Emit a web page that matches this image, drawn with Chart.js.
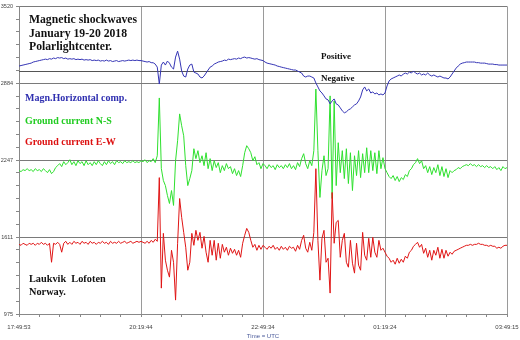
<!DOCTYPE html>
<html>
<head>
<meta charset="utf-8">
<script src="https://cdn.jsdelivr.net/npm/chart.js@4.4.1/dist/chart.umd.min.js"></script>
<style>
html, body { margin: 0; padding: 0; background: #fff; }
#wrap { position: relative; width: 520px; height: 340px; }
</style>
</head>
<body>
<div id="wrap"><canvas id="chart"></canvas></div>
<script>
// logger output, one sample every ~2.5 min from 17:49:53 to 03:49:15 (241 samples)
const xTickLabels = ['17:49:53', '20:19:44', '22:49:34', '01:19:24', '03:49:15'];
const yTickLabels = ['975', '1611', '2247', '2884', '3520'];
const yMin = 975;
const yMax = 3520;
const magnZeroLevel = 2985;

const magnHorizontal = [
  3026,3030,3034,3038,3042,3046,3050,3059,3063,3067,
  3071,3075,3079,3083,3079,3087,3083,3092,3087,3096,
  3092,3096,3087,3092,3083,3087,3083,3087,3079,3083,
  3079,3083,3075,3079,3075,3079,3071,3075,3071,3075,
  3067,3071,3067,3075,3067,3071,3063,3067,3071,3063,
  3067,3071,3067,3071,3075,3071,3075,3071,3075,3071,
  3071,
  3067,3063,3059,3063,3054,3053,3042,3017,2877,3034,
  3059,3034,3067,3050,3017,3001,3100,3149,3083,2985,
  2943,2935,3001,3034,3042,2976,2968,2960,2935,2927,
  2943,2968,2993,3017,3026,3042,3050,3059,3063,3067,
  3075,3071,3083,3079,3083,3087,3083,3092,3087,3096,
  3100,3092,3096,3092,3087,3083,3087,3079,3075,3071,
  3059,3050,3046,3042,3038,3034,3026,3022,3017,3013,
  3009,3005,3001,2997,2993,2993,2985,2976,2968,2943,
  2935,2943,2943,2935,2927,2886,2853,2820,2803,2779,
  2754,2746,2713,2737,2754,2713,2704,2680,2655,2639,
  2647,2663,2672,2688,2704,2713,2737,2770,2828,2853,
  2820,2836,2803,2812,2795,2803,2787,2795,2787,2803,
  2861,2902,2919,2927,2935,2943,2952,2943,2960,2968,
  2960,2976,2968,2985,2968,2960,2968,2952,2960,2952,
  2968,2952,2943,2952,2943,2935,2943,2935,2927,2927,
  2919,2935,2960,2985,3009,3026,3042,3050,3054,3059,
  3059,3059,3059,3059,3054,3054,3050,3050,3050,3046,
  3042,3042,3042,3038,3038,3034,3034,3034,3034,3034
];

const groundNS = [
  2161,2153,2169,2161,2177,2161,2169,2153,2177,2161,
  2169,2153,2177,2161,2144,2169,2136,2153,2186,2202,
  2219,2194,2235,2210,2227,2251,2210,2235,2202,2243,
  2219,2235,2202,2243,2210,2227,2202,2235,2210,2243,
  2219,2202,2235,2210,2243,2219,2235,2210,2243,2227,
  2235,2219,2243,2227,2235,2227,2243,2227,2235,2227,
  2243,
  2235,2251,2227,2243,2235,2260,2227,2284,2762,2177,
  2079,2037,1955,1889,1996,1873,2243,2408,2630,2532,
  2449,2202,2037,2095,2161,2342,2260,2326,2227,2284,
  2202,2309,2177,2260,2161,2243,2186,2227,2144,2202,
  2161,2219,2177,2194,2136,2177,2120,2161,2112,2202,
  2309,2367,2342,2309,2243,2276,2210,2227,2177,2219,
  2202,2177,2210,2186,2202,2169,2210,2186,2202,2177,
  2210,2186,2219,2177,2202,2169,2227,2194,2260,2301,
  2219,2177,2243,2202,2326,2836,2326,1939,2161,2284,
  2120,2177,2779,1930,2737,2037,2392,2144,2326,2095,
  2342,2054,2309,1996,2284,2120,2326,2103,2301,2144,
  2350,2144,2326,2161,2309,2136,2326,2177,2268,2177,
  2144,2112,2095,2120,2079,2112,2070,2103,2087,2128,
  2112,2161,2177,2210,2227,2260,2219,2243,2177,2202,
  2144,2194,2128,2186,2144,2210,2120,2194,2112,2177,
  2103,2161,2144,2161,2169,2186,2177,2194,2202,2210,
  2202,2219,2202,2210,2194,2210,2194,2202,2186,2202,
  2186,2194,2177,2194,2169,2186,2161,2194,2177,2186
];

const groundEW = [
  1551,1543,1560,1551,1543,1560,1551,1560,1543,1560,
  1551,1568,1551,1560,1543,1560,1403,1560,1551,1568,
  1551,1486,1560,1576,1551,1568,1551,1576,1560,1568,
  1551,1576,1560,1568,1551,1576,1560,1568,1551,1568,
  1560,1576,1560,1568,1551,1576,1560,1568,1560,1576,
  1560,1568,1576,1560,1568,1576,1560,1568,1576,1568,
  1576,
  1568,1560,1576,1560,1584,1568,1593,1576,2103,1189,
  1642,1420,1337,1280,1502,1403,1090,1560,1930,1774,
  1650,1527,1337,1403,1642,1543,1667,1584,1650,1519,
  1617,1486,1403,1584,1461,1584,1420,1560,1436,1551,
  1486,1527,1461,1519,1477,1510,1461,1502,1444,1560,
  1626,1683,1650,1584,1527,1551,1502,1543,1510,1543,
  1527,1510,1535,1519,1543,1510,1527,1502,1535,1510,
  1527,1502,1535,1519,1527,1494,1543,1510,1584,1626,
  1519,1486,1568,1502,1650,2177,1584,1255,1601,1667,
  1403,1436,1148,1980,1560,1733,1749,1444,1584,1642,
  1403,1362,1584,1395,1313,1560,1379,1337,1650,1461,
  1420,1601,1444,1609,1486,1444,1584,1502,1519,1486,
  1453,1436,1403,1420,1387,1436,1395,1428,1403,1453,
  1436,1486,1502,1535,1551,1568,1527,1551,1477,1519,
  1444,1502,1420,1502,1461,1527,1436,1510,1436,1502,
  1453,1486,1469,1494,1502,1510,1519,1527,1535,1543,
  1543,1551,1543,1551,1551,1560,1551,1551,1543,1543,
  1535,1543,1535,1535,1519,1527,1519,1535,1543,1543
];

const toPoints = arr => arr.map((v, i) => ({ x: i, y: v }));
const lastIndex = magnHorizontal.length - 1;

const serif = '"Liberation Serif", "Times New Roman", serif';
const sans = '"Liberation Sans", Arial, sans-serif';

// zero line of the magnetometer trace + the caption texts
const overlayText = {
    id: 'overlayText',
    beforeDatasetsDraw(chart) {
        const { ctx, chartArea, scales } = chart;
        const y = Math.round(scales.y.getPixelForValue(magnZeroLevel)) + 0.5;
        ctx.save();
        ctx.strokeStyle = '#555';
        ctx.lineWidth = 1;
        ctx.beginPath();
        ctx.moveTo(chartArea.left, y);
        ctx.lineTo(chartArea.right, y);
        ctx.stroke();
        ctx.restore();
    },
    afterDatasetsDraw(chart) {
        const { ctx, chartArea, scales } = chart;
        const l = chartArea.left, t = chartArea.top;
        const zy = scales.y.getPixelForValue(magnZeroLevel);
        ctx.save();
        ctx.textBaseline = 'middle';
        ctx.textAlign = 'left';

        ctx.fillStyle = '#111';
        ctx.font = 'bold 11.7px ' + serif;
        ctx.fillText('Magnetic shockwaves', l + 10, t + 14);
        ctx.fillText('January 19-20 2018', l + 10, t + 28);
        ctx.fillText('Polarlightcenter.', l + 10, t + 41);

        ctx.font = 'bold 9px ' + serif;
        ctx.fillText('Positive', l + 302, zy - 14);
        ctx.fillText('Negative', l + 302, zy + 8);

        ctx.font = 'bold 10px ' + serif;
        ctx.fillStyle = '#2f2fb0';
        ctx.fillText('Magn.Horizontal comp.', l + 6, t + 92);
        ctx.fillStyle = '#22cc22';
        ctx.fillText('Ground current N-S', l + 6, t + 115);
        ctx.fillStyle = '#dd1111';
        ctx.fillText('Ground current E-W', l + 6, t + 136);

        ctx.fillStyle = '#111';
        ctx.font = 'bold 10.3px ' + serif;
        ctx.fillText('Laukvik  Lofoten', l + 10, t + 273);
        ctx.fillText('Norway.', l + 10, t + 286);
        ctx.restore();
    }
};

new Chart(document.getElementById('chart'), {
    type: 'line',
    data: {
        datasets: [
            { label: 'Magn.Horizontal comp.', data: toPoints(magnHorizontal), borderColor: '#3535b5', borderWidth: 1 },
            { label: 'Ground current E-W', data: toPoints(groundEW), borderColor: '#e01515', borderWidth: 1 },
            { label: 'Ground current N-S', data: toPoints(groundNS), borderColor: '#2fe02f', borderWidth: 1 }
        ]
    },
    options: {
        responsive: true,
        maintainAspectRatio: false,
        animation: false,
        elements: { point: { radius: 0 }, line: { tension: 0 } },
        layout: { padding: { top: 5, right: 13, left: 0, bottom: 0 } },
        plugins: { legend: { display: false }, tooltip: { enabled: false } },
        scales: {
            x: {
                type: 'linear',
                min: 0,
                max: lastIndex,
                afterBuildTicks: scale => {
                    const ticks = [];
                    for (let v = 0; v <= lastIndex; v += 10) ticks.push({ value: v });
                    scale.ticks = ticks;
                },
                afterFit: scale => {
                    scale.height = 26;
                    // last label may hang over the right edge
                    scale.paddingLeft = 0;
                    scale.paddingRight = 0;
                },
                border: { color: '#888' },
                grid: {
                    color: ctx => (ctx.tick && ctx.tick.value % 60 === 0) ? '#9a9a9a' : 'rgba(0,0,0,0)',
                    tickColor: '#888',
                    tickLength: 3
                },
                ticks: {
                    autoSkip: false,
                    maxRotation: 0,
                    padding: 7,
                    color: '#444',
                    font: { family: sans, size: 6 },
                    callback: v => v % 60 === 0 ? xTickLabels[v / 60] : ''
                },
                title: {
                    display: true,
                    text: 'Time = UTC',
                    color: '#4a5a9a',
                    padding: { top: 0, bottom: 0 },
                    font: { family: sans, size: 6 }
                }
            },
            y: {
                min: yMin,
                max: yMax,
                afterBuildTicks: scale => {
                    const ticks = [];
                    for (let k = 0; k <= 24; k++) ticks.push({ value: yMin + k * (yMax - yMin) / 24 });
                    scale.ticks = ticks;
                },
                afterFit: scale => { scale.width = 19; },
                border: { color: '#888' },
                grid: {
                    color: ctx => (ctx.index % 6 === 0) ? '#7a7a7a' : 'rgba(0,0,0,0)',
                    tickColor: '#888',
                    tickLength: 3
                },
                ticks: {
                    autoSkip: false,
                    padding: 3,
                    color: '#444',
                    font: { family: sans, size: 5.5 },
                    callback: (v, i) => i % 6 === 0 ? yTickLabels[i / 6] : ''
                }
            }
        }
    },
    plugins: [overlayText]
});
</script>
</body>
</html>
